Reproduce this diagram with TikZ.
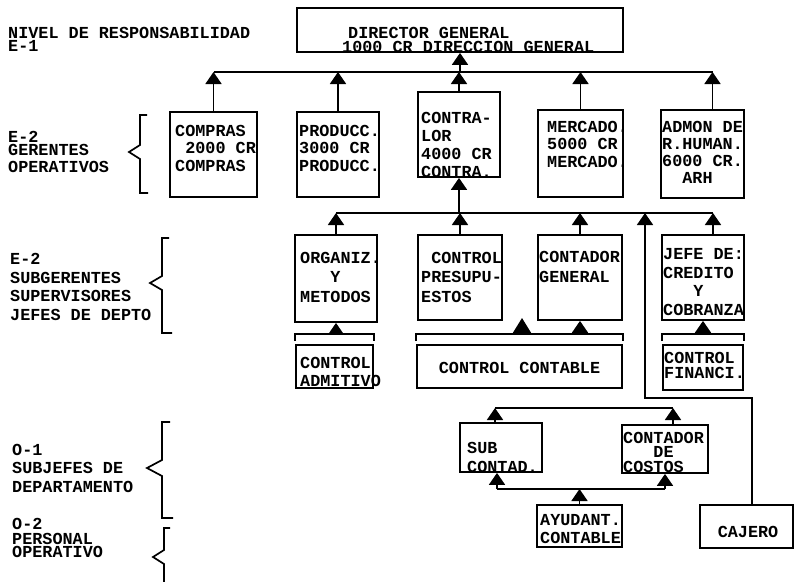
\documentclass[tikz,border=0pt]{standalone}
\usepackage{fontspec}
\setmonofont{Liberation Mono}
\usetikzlibrary{arrows.meta}

% typewriter text with a given line spacing
\newcommand{\tw}[1]{\fontsize{16.8}{#1}\selectfont\ttfamily\bfseries}

\begin{document}
\begin{tikzpicture}[x=1pt, y=-1pt,
  unit/.style 2 args={draw, line width=1.8pt, minimum width=#1, minimum height=#2, inner sep=0pt},
  txt/.style={anchor=base west, align=left, inner sep=0pt, font=\tw{#1}},
  txt/.default=18,
  wire/.style={line width=1.8pt},
  up/.style={wire, -{Triangle[width=16pt,length=12pt]}},
  bigup/.style={wire, -{Triangle[width=18pt,length=15pt]}},
  brace/.style={line width=1.7pt, line join=miter}]

\useasboundingbox (0,0) rectangle (795,581);

% Bus levels
\coordinate (busA) at (0,72);
\coordinate (busB) at (0,213);
\coordinate (brk)  at (0,334);
\coordinate (busC) at (0,408);
\coordinate (busD) at (0,489);

% Level labels (placed at the baseline of their last line)
\node[txt=13] (lvlA) at (8,51) {NIVEL DE RESPONSABILIDAD\\E-1};
\node[txt=13] (lvlB) at (8,172) {E-2\\GERENTES\\[4pt]OPERATIVOS};
\node[txt=18.5] (lvlC) at (10,320) {E-2\\SUBGERENTES\\SUPERVISORES\\JEFES DE DEPTO};
\node[txt=18.5] (lvlD) at (12,492) {O-1\\SUBJEFES DE\\DEPARTAMENTO};
\node[txt=15] (lvlE) at (12,557) {O-2\\PERSONAL\\[-2pt]OPERATIVO};

% Braces
\draw[brace] (147,115) -- (140,115) -- (140,145) -- (129,152) -- (140,159) -- (140,193) -- (148,193);
\draw[brace] (169,238) -- (162,238) -- (162,276) -- (150,283) -- (162,290) -- (162,333) -- (172,333);
\draw[brace] (170,422) -- (162,422) -- (162,460) -- (147,468) -- (162,476) -- (162,518) -- (173,518);
\draw[brace] (170,528) -- (164,528) -- (164,550) -- (153,557) -- (164,564) -- (164,585);

% Boxes
\node[unit={326}{44}] (dir) at (460,30) {};
\node[unit={87}{85}] (compras) at (213.5,154.5) {};
\node[unit={82}{85}] (producc) at (338,154.5) {};
\node[unit={82}{85}] (contra) at (459,134.5) {};
\node[unit={85}{87}] (merca) at (580.5,153.5) {};
\node[unit={83}{88}] (admon) at (702.5,154) {};
\node[unit={82}{87}] (organiz) at (336,278.5) {};
\node[unit={84}{85}] (presup) at (460,277.5) {};
\node[unit={84}{85}] (contgen) at (580,277.5) {};
\node[unit={82}{85}] (jefe) at (703,277.5) {};
\node[unit={77}{43}] (admit) at (334.5,366.5) {};
\node[unit={205}{43}] (contable) at (519.5,366.5) {};
\node[unit={80}{45}] (financi) at (703,367.5) {};
\node[unit={82}{49}] (subcont) at (501,447.5) {};
\node[unit={86}{48}] (costos) at (665,449) {};
\node[unit={85}{42}] (ayud) at (579.5,526) {};
\node[unit={93}{43}] (cajero) at (746.5,526.5) {};

% Box texts (placed at the baseline of their last line)
\node[txt=14] (dirT) at (342,52) {\hspace*{6pt}DIRECTOR GENERAL\\1000 CR DIRECCION GENERAL};
\node[txt=17.5] (comprasT) at (175,171) {COMPRAS\\\ 2000 CR\\COMPRAS};
\node[txt=17.5] (produccT) at (299,171) {PRODUCC.\\3000 CR\\PRODUCC.};
\node[txt=18] (contraT) at (421,177) {CONTRA-\\LOR\\4000 CR\\CONTRA.};
\node[txt=17.5] (mercaT) at (547,167) {MERCADO.\\5000 CR\\MERCADO.};
\node[txt=17] (admonT) at (662,183) {ADMON DE\\R.HUMAN.\\6000 CR.\\\ \ ARH};
\node[txt=19.5] (organizT) at (300,302) {ORGANIZ.\\\ \ \ Y\\METODOS};
\node[txt=19.5] (presupT) at (421,302) {\ CONTROL\\PRESUPU-\\ESTOS};
\node[txt=19.5] (contgenT) at (539,282) {CONTADOR\\GENERAL};
\node[txt=18.5] (jefeT) at (663,315) {JEFE DE:\\CREDITO\\\ \ \ Y\\COBRANZA};
\node[txt=18] (admitT) at (300,386) {CONTROL\\ADMITIVO};
\node[txt, anchor=base] (contableT) at (519.5,373) {CONTROL CONTABLE};
\node[txt=15] (financiT) at (664,378) {CONTROL\\FINANCI.};
\node[txt=19] (subcontT) at (467,472) {SUB\\CONTAD.};
\node[txt=14.5] (costosT) at (623,472) {CONTADOR\\\ \ \ DE\\COSTOS};
\node[txt=18] (ayudT) at (540,543) {AYUDANT.\\CONTABLE};
\node[txt, anchor=base] (cajeroT) at (748,537) {CAJERO};

% Offset attachment points
\coordinate (admonP) at ([xshift=10]admon.north);
\coordinate (jefeP) at ([xshift=10]jefe.north);
\coordinate (cajP) at ([xshift=5.5]cajero.north);
\coordinate (cajbend) at (645,398);
\coordinate (gap) at (522,318);
\coordinate (subP) at ([xshift=-6]subcont.north);
\coordinate (cosP) at ([xshift=8]costos.north);
\coordinate (subQ) at ([xshift=-4]subcont.south);

% Gerentes to director
\draw[wire] (compras.north |- busA) -- (admonP |- busA);
\foreach \n in {compras,producc,contra,merca}
  \draw[up] (\n.north) -- (\n.north |- busA);
\draw[up] (admonP) -- (admonP |- busA);
\draw[up] (dir.south |- busA) -- (dir.south);

% Subgerentes to contralor
\draw[wire] (organiz.north |- busB) -- (jefeP |- busB);
\draw[up] (contra.south |- busB) -- (contra.south);
\foreach \n in {organiz,presup,contgen}
  \draw[up] (\n.north) -- (\n.north |- busB);
\draw[up] (jefeP) -- (jefeP |- busB);
\draw[up] (cajP) |- (cajbend) -- (cajbend |- busB);

% Brackets under the departments
\foreach \n in {admit,contable,financi}
  \draw[wire] ([yshift=3]\n.north west) |- (\n.north |- brk) -| ([yshift=3]\n.north east);
\draw[up] (organiz.south |- brk) -- (organiz.south);
\draw[bigup] (gap |- brk) -- (gap);
\draw[up] (contgen.south |- brk) -- (contgen.south);
\draw[up] (jefe.south |- brk) -- (jefe.south);

% Subjefes and personal
\draw[wire] (subP |- busC) -- (cosP |- busC);
\draw[up] (subP) -- (subP |- busC);
\draw[up] (cosP) -- (cosP |- busC);
\draw[wire] (subQ |- busD) -- (costos.south |- busD);
\draw[up] (subQ |- busD) -- (subQ);
\draw[up] (costos.south |- busD) -- (costos.south);
\draw[up] (ayud.north) -- (ayud.north |- busD);

\end{tikzpicture}
\end{document}
